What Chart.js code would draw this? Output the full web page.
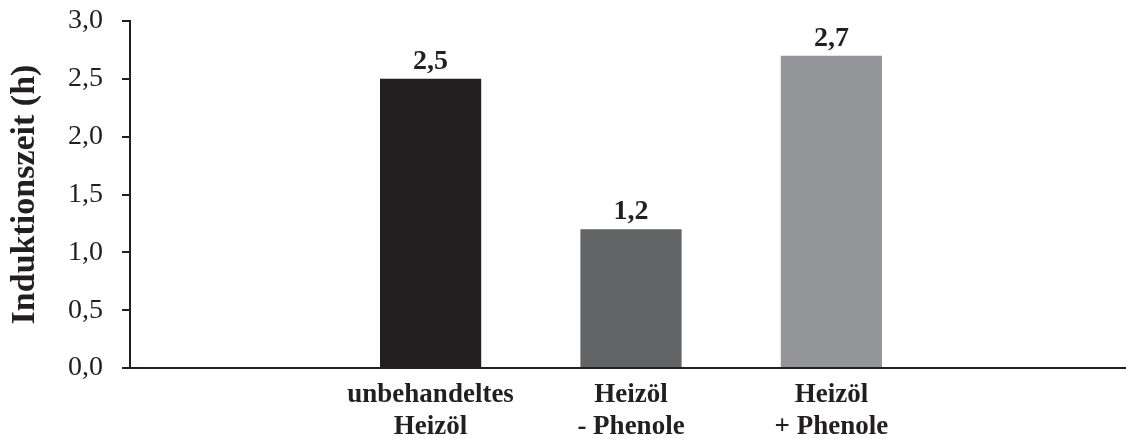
<!DOCTYPE html>
<html lang="de">
<head>
<meta charset="utf-8">
<title>Induktionszeit</title>
<script src="https://cdn.jsdelivr.net/npm/chart.js@4/dist/chart.umd.min.js"></script>
<style>
  html, body { margin: 0; padding: 0; background: #ffffff; overflow: hidden; }
  #wrap { width: 1126px; height: 439px; overflow: hidden; }
</style>
</head>
<body>
<div id="wrap"><canvas id="chart" width="1132" height="439"></canvas></div>
<script>
// Kategorien (leere Randkategorien halten die Balken in der Mitte der Achse)
const categories = [
  '',
  ['unbehandeltes', 'Heizöl'],
  ['Heizöl', '- Phenole'],
  ['Heizöl', '+ Phenole'],
  ''
];
// Induktionszeit in Stunden
const values = [null, 2.5, 1.2, 2.7, null];
const barColors = ['#231f20', '#231f20', '#636466', '#939598', '#939598'];
// Y-Achse
const yTicks = [0, 0.5, 1.0, 1.5, 2.0, 2.5, 3.0];
const yTitle = 'Induktionszeit (h)';

const SERIF = "'Liberation Serif', 'Times New Roman', serif";
const INK = '#231f20';

const fmt = v => v.toFixed(1).replace('.', ',');

// Wertbeschriftung über jedem Balken
const valueLabels = {
  id: 'valueLabels',
  afterDatasetsDraw(chart) {
    const ctx = chart.ctx;
    const meta = chart.getDatasetMeta(0);
    ctx.save();
    ctx.font = 'bold 28px ' + SERIF;
    ctx.fillStyle = INK;
    ctx.textAlign = 'center';
    ctx.textBaseline = 'alphabetic';
    meta.data.forEach((bar, i) => {
      const v = values[i];
      if (v === null || v === undefined) return;
      ctx.fillText(fmt(v), bar.x, bar.y - 10);
    });
    ctx.restore();
  }
};

new Chart(document.getElementById('chart'), {
  type: 'bar',
  data: {
    labels: categories,
    datasets: [{
      data: values,
      backgroundColor: barColors,
      borderWidth: 0,
      barPercentage: 0.505,
      categoryPercentage: 1.0
    }]
  },
  options: {
    responsive: false,
    animation: false,
    devicePixelRatio: 1,
    layout: { padding: { top: 21, right: 0, bottom: 0, left: 0 } },
    plugins: {
      legend: { display: false },
      tooltip: { enabled: false }
    },
    scales: {
      x: {
        grid: { display: false },
        border: { display: true, color: INK, width: 2 },
        ticks: {
          color: INK,
          font: { family: SERIF, size: 27, weight: 'bold', lineHeight: 1.15 },
          padding: 4,
          maxRotation: 0,
          autoSkip: false
        },
        afterFit(scale) { scale.height = 71; }
      },
      y: {
        min: 0,
        max: 3,
        afterBuildTicks(scale) { scale.ticks = yTicks.map(v => ({ value: v })); },
        grid: { drawOnChartArea: false, drawTicks: true, tickLength: 8, color: INK, lineWidth: 2 },
        border: { display: true, color: INK, width: 2 },
        ticks: {
          color: INK,
          font: { family: SERIF, size: 28 },
          padding: 19,
          callback: v => fmt(v)
        },
        title: {
          display: true,
          text: yTitle,
          color: INK,
          font: { family: SERIF, size: 34, weight: 'bold', lineHeight: 1.2 },
          padding: { top: 5, bottom: 0 }
        },
        afterFit(scale) {
          scale.width = 130;
          scale.paddingTop = 0;
          scale.paddingBottom = 0;
        }
      }
    }
  },
  plugins: [valueLabels]
});
</script>
</body>
</html>
